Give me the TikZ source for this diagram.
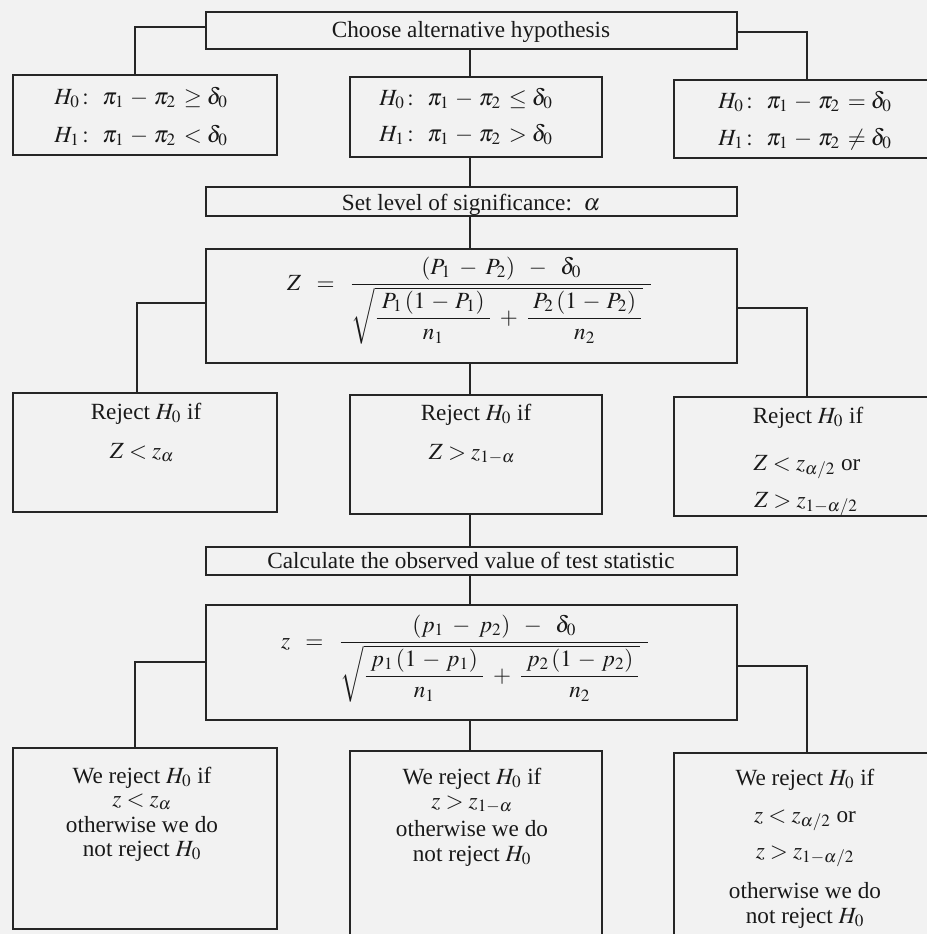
\documentclass[tikz,border=0pt]{standalone}
\usepackage{amsmath}
\usepackage{mathptmx}
\usepackage[no-math]{fontspec}
\setmainfont{Liberation Serif}
\usetikzlibrary{calc}
\tikzset{
  box/.style={draw=black!85, line width=1.3pt, inner sep=0pt, outer sep=0pt},
  wire/.style={draw=black!85, line width=0.9pt},
  txt/.style={inner sep=0pt, outer sep=0pt, font=\fontsize{16.5}{19}\selectfont, text=black!90},
}
\newcommand\bx[5]{\node[box, minimum width={(#4-#2)*0.025cm}, minimum height={(#5-#3)*0.025cm}] (#1) at ({(#2+#4)/2},{(#3+#5)/2}) {};}
\newcommand\tl[4]{\node[txt, anchor=base] (#1) at ({#2},{#3}) {#4};}
\newcommand\hyp[4]{$#1\colon\ #2\mkern2mu-\mkern2mu#3\mkern2mu#4$}
\begin{document}
\begin{tikzpicture}[x=0.025cm,y=-0.025cm]
\useasboundingbox (0,0) rectangle (927,934);
\clip (0,0) rectangle (927,934);
\fill[black!5] (0,0) rectangle (927,934);
% boxes
\bx{top}{206}{12}{737}{49}
\bx{hl}{13}{75}{277}{155}
\bx{hc}{350}{77}{602}{157}
\bx{hr}{674}{80}{945}{158}
\bx{sig}{206}{187}{737}{216}
\bx{Zb}{206}{249}{737}{363}
\bx{rl}{13}{393}{277}{512}
\bx{rc}{350}{395}{602}{514}
\bx{rr}{674}{397}{945}{516}
\bx{calc}{206}{547}{737}{575}
\bx{zb}{206}{605}{737}{720}
\bx{bl}{13}{748}{277}{929}
\bx{bc}{350}{751}{602}{950}
\bx{br}{674}{753}{945}{950}
% texts
\tl{ttop}{471}{37}{Choose alternative hypothesis}
\tl{hl1}{141}{104}{\hyp{H_0}{\pi_1}{\pi_2}{\geq\delta_0}}
\tl{hl2}{141}{142}{\hyp{H_1}{\pi_1}{\pi_2}{<\delta_0}}
\tl{hc1}{466}{105}{\hyp{H_0}{\pi_1}{\pi_2}{\leq\delta_0}}
\tl{hc2}{466}{141}{\hyp{H_1}{\pi_1}{\pi_2}{>\delta_0}}
\tl{hr1}{805}{108}{\hyp{H_0}{\pi_1}{\pi_2}{=\delta_0}}
\tl{hr2}{805}{145}{\hyp{H_1}{\pi_1}{\pi_2}{\neq\delta_0}}
\tl{tsig}{471}{210}{Set level of significance:\ \ $\alpha$}
\node[txt, anchor=base west] (fZ) at (287,290) {$Z\;\;=\;\;\dfrac{(P_1\;-\;P_2)\;\;-\;\;\delta_0}{\sqrt{\dfrac{\;P_1\,(1\,-\,P_1)\;}{n_1}\mkern4mu+\mkern4mu\dfrac{\;P_2\,(1\,-\,P_2)\;}{n_2}}\mkern6mu}$};
\tl{rl1}{146}{419}{Reject $H_0$ if}
\tl{rl2}{142}{458}{$Z<z_\alpha$}
\tl{rc1}{476}{420}{Reject $H_0$ if}
\tl{rc2}{472}{459}{$Z>z_{1-\alpha}$}
\tl{rr1}{808}{423}{Reject $H_0$ if}
\tl{rr2}{807}{470}{$Z<z_{\alpha/2}$ or}
\tl{rr3}{806}{507}{$Z>z_{1-\alpha/2}$}
\tl{tcalc}{471}{568}{Calculate the observed value of test statistic}
\node[txt, anchor=base west] (fz) at (281,648) {$z\;\;=\;\;\dfrac{(p_1\;-\;p_2)\;\;-\;\;\delta_0}{\sqrt{\dfrac{\;p_1\,(1\,-\,p_1)\;}{n_1}\mkern4mu+\mkern4mu\dfrac{\;p_2\,(1\,-\,p_2)\;}{n_2}}\mkern6mu}$};
\tl{bl1}{142}{783}{We reject\ $H_0$\ if}
\tl{bl2}{142}{806}{$z<z_\alpha$}
\tl{bl3}{142}{832}{otherwise we do}
\tl{bl4}{142}{856}{not reject\ $H_0$}
\tl{bc1}{472}{784}{We reject\ $H_0$\ if}
\tl{bc2}{472}{808}{$z>z_{1-\alpha}$}
\tl{bc3}{472}{836}{otherwise we do}
\tl{bc4}{472}{861}{not reject\ $H_0$}
\tl{br1}{805}{785}{We reject\ $H_0$\ if}
\tl{br2}{805}{822}{$z<z_{\alpha/2}$ or}
\tl{br3}{805}{858}{$z>z_{1-\alpha/2}$}
\tl{br4}{805}{898}{otherwise we do}
\tl{br5}{805}{923}{not reject\ $H_0$}
% connector coordinates
\coordinate (cx) at (470,0);
\coordinate (k1) at (135,27);
\coordinate (k2) at (807,32);
\coordinate (k4) at (137,303);
\coordinate (k5) at (807,308);
\coordinate (k6) at (135,662);
\coordinate (k7) at (807,666);
% connectors
\draw[wire] (top.west |- k1) -| (k1 |- hl.north);
\draw[wire] (top.east |- k2) -| (k2 |- hr.north);
\draw[wire] (top.south -| cx) -- (cx |- hc.north);
\draw[wire] (hc.south -| cx) -- (cx |- sig.north);
\draw[wire] (sig.south -| cx) -- (cx |- Zb.north);
\draw[wire] (Zb.west |- k4) -| (k4 |- rl.north);
\draw[wire] (Zb.east |- k5) -| (k5 |- rr.north);
\draw[wire] (Zb.south -| cx) -- (cx |- rc.north);
\draw[wire] (rc.south -| cx) -- (cx |- calc.north);
\draw[wire] (calc.south -| cx) -- (cx |- zb.north);
\draw[wire] (zb.west |- k6) -| (k6 |- bl.north);
\draw[wire] (zb.east |- k7) -| (k7 |- br.north);
\draw[wire] (zb.south -| cx) -- (cx |- bc.north);
\end{tikzpicture}
\end{document}
